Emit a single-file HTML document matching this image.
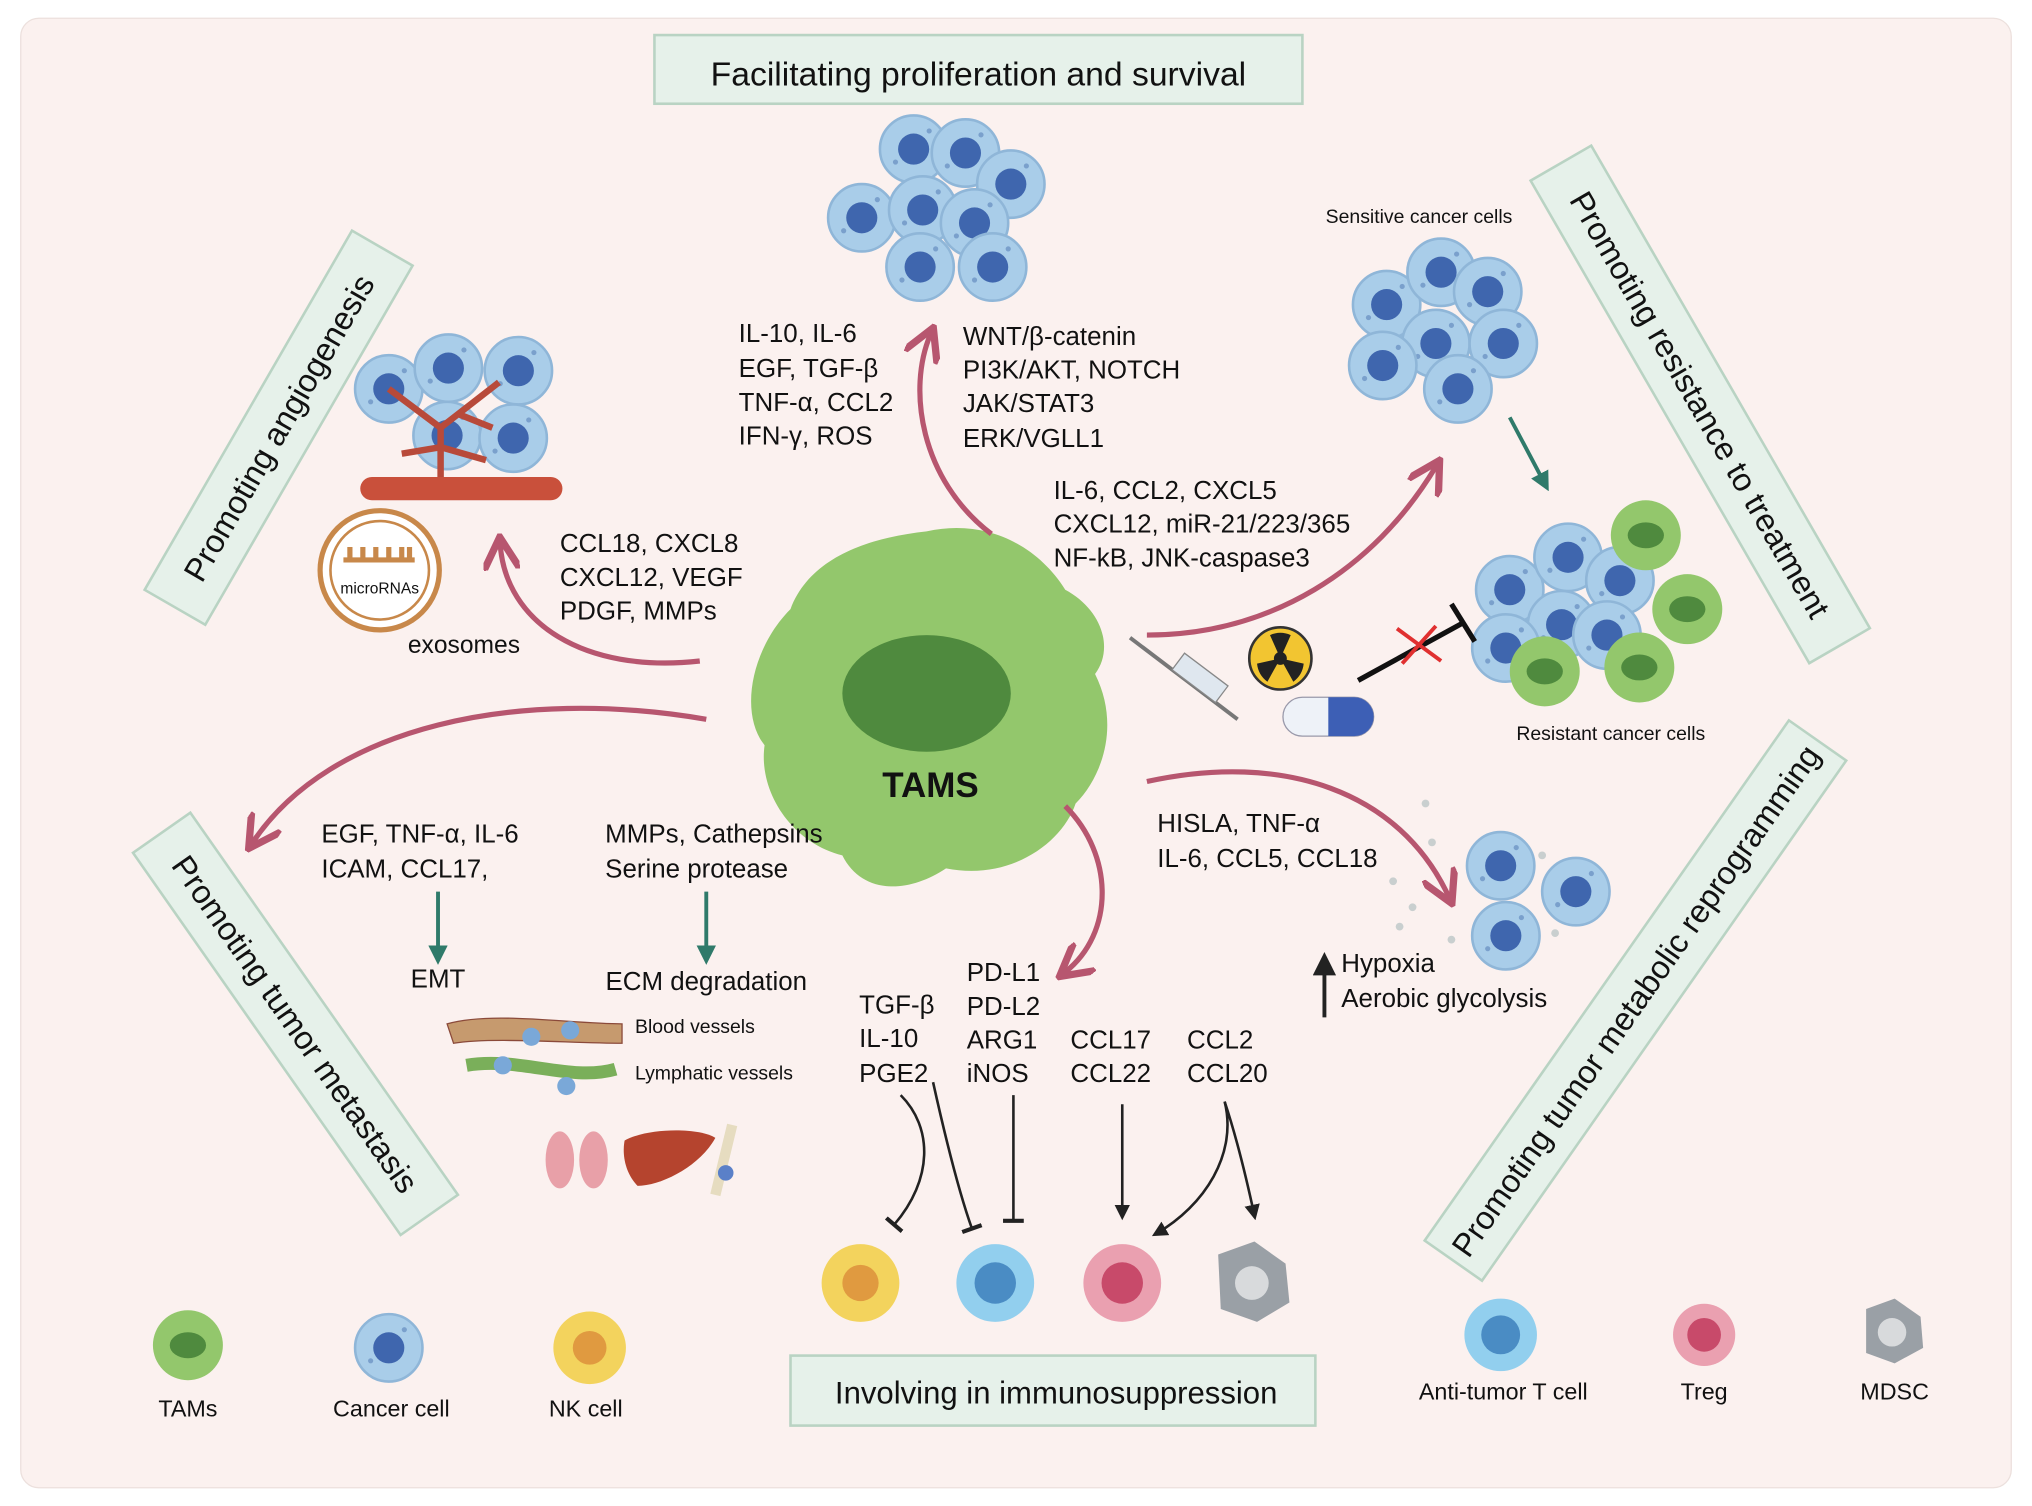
<!DOCTYPE html>
<html><head><meta charset="utf-8"><style>
html,body{margin:0;padding:0;background:#fff;}
svg{display:block;}
text{font-family:"Liberation Sans",Arial,sans-serif;fill:#111;}
</style></head><body>
<svg width="2032" height="1506" viewBox="0 0 1568 1162" xmlns="http://www.w3.org/2000/svg">
<defs>
<marker id="ap" viewBox="0 0 10 10" refX="7" refY="5" markerWidth="7" markerHeight="7" orient="auto-start-reverse"><path d="M0,0 L9,5 L0,10" fill="none" stroke="#b7566f" stroke-width="2"/></marker>
<marker id="ag" viewBox="0 0 10 10" refX="7" refY="5" markerWidth="5" markerHeight="5" orient="auto"><path d="M0,0 L10,5 L0,10 z" fill="#2f7a6a"/></marker>
<marker id="ak" viewBox="0 0 10 10" refX="7" refY="5" markerWidth="6" markerHeight="6" orient="auto"><path d="M0,0 L10,5 L0,10 z" fill="#222"/></marker>
<marker id="tb" viewBox="0 0 10 10" refX="5" refY="5" markerWidth="8" markerHeight="8" orient="auto"><path d="M5,0 L5,10" stroke="#222" stroke-width="2"/></marker>
<g id="cc"><circle r="26" fill="#a9cde9" stroke="#8fb6d8" stroke-width="2"/><circle r="12" fill="#3f66ae"/><circle cx="12" cy="-14" r="2" fill="#7aa0cc"/><circle cx="-14" cy="10" r="2" fill="#7aa0cc"/></g>
<g id="gc"><circle r="27" fill="#93c76c"/><ellipse rx="14" ry="10" fill="#4f8a3e"/></g>
</defs>
<rect x="16" y="14" width="1536" height="1134" rx="14" fill="#fbf1ef" stroke="#ece0dd"/>

<!-- title boxes -->
<rect x="505" y="27" width="500" height="53" fill="#e6f1ea" stroke="#b9d3c3" stroke-width="2"/>
<text x="755" y="66" font-size="26" text-anchor="middle">Facilitating proliferation and survival</text>
<rect x="610" y="1046" width="405" height="54" fill="#e6f1ea" stroke="#b9d3c3" stroke-width="2"/>
<text x="815" y="1083" font-size="24" text-anchor="middle">Involving in immunosuppression</text>
<g transform="translate(215,330) rotate(-60)"><rect x="-160" y="-27" width="320" height="54" fill="#e6f1ea" stroke="#b9d3c3" stroke-width="2"/><text y="9" font-size="25" text-anchor="middle">Promoting angiogenesis</text></g>
<g transform="translate(1312,312) rotate(60)"><rect x="-215" y="-27" width="430" height="54" fill="#e6f1ea" stroke="#b9d3c3" stroke-width="2"/><text y="9" font-size="25" text-anchor="middle">Promoting resistance to treatment</text></g>
<g transform="translate(228,790) rotate(55)"><rect x="-180" y="-27" width="360" height="54" fill="#e6f1ea" stroke="#b9d3c3" stroke-width="2"/><text y="9" font-size="25" text-anchor="middle">Promoting tumor metastasis</text></g>
<g transform="translate(1262,772) rotate(-55)"><rect x="-245" y="-27" width="490" height="54" fill="#e6f1ea" stroke="#b9d3c3" stroke-width="2"/><text y="9" font-size="25" text-anchor="middle">Promoting tumor metabolic reprogramming</text></g>

<!-- top cells -->
<use href="#cc" x="665" y="168"/><use href="#cc" x="705" y="115"/><use href="#cc" x="745" y="118"/><use href="#cc" x="780" y="142"/><use href="#cc" x="712" y="162"/><use href="#cc" x="752" y="172"/><use href="#cc" x="710" y="206"/><use href="#cc" x="766" y="206"/>
<!-- sensitive cells -->
<use href="#cc" x="1070" y="235"/><use href="#cc" x="1112" y="210"/><use href="#cc" x="1148" y="225"/><use href="#cc" x="1108" y="265"/><use href="#cc" x="1160" y="265"/><use href="#cc" x="1067" y="282"/><use href="#cc" x="1125" y="300"/>
<text x="1095" y="172" font-size="15" text-anchor="middle">Sensitive cancer cells</text>
<!-- resistant -->
<use href="#cc" x="1165" y="455"/><use href="#cc" x="1210" y="430"/><use href="#cc" x="1250" y="448"/><use href="#cc" x="1205" y="482"/><use href="#cc" x="1162" y="500"/><use href="#cc" x="1240" y="490"/>
<use href="#gc" x="1270" y="413"/><use href="#gc" x="1302" y="470"/><use href="#gc" x="1192" y="518"/><use href="#gc" x="1265" y="515"/>
<text x="1243" y="571" font-size="15" text-anchor="middle">Resistant cancer cells</text>
<path d="M1165,322 L1193,375" stroke="#2f7a6a" stroke-width="3" marker-end="url(#ag)"/>
<path d="M1048,525 L1130,480" stroke="#111" stroke-width="4"/><path d="M1120,466 L1138,495" stroke="#111" stroke-width="4"/>
<path d="M1078,485 L1112,510 M1108,483 L1082,512" stroke="#e03030" stroke-width="3"/>
<!-- syringe, radiation, pill -->
<path d="M872,492 L955,555" stroke="#777" stroke-width="3"/><rect x="905" y="515" width="42" height="16" fill="#dfe7ef" stroke="#888" transform="rotate(37 926 523)"/>
<circle cx="988" cy="508" r="24" fill="#f2c531" stroke="#333" stroke-width="2"/><circle cx="988" cy="508" r="5" fill="#222"/>
<path d="M988,508 L980,490 A20,20 0 0 1 996,490 Z M988,508 L1006,512 A20,20 0 0 1 998,526 Z M988,508 L978,526 A20,20 0 0 1 970,512 Z" fill="#222"/>
<rect x="990" y="538" width="70" height="30" rx="15" fill="#eef2f8" stroke="#99a"/><path d="M1025,538 h20 a15,15 0 0 1 0,30 h-20 z" fill="#3d5fb5"/>

<!-- angiogenesis -->
<use href="#cc" x="300" y="300"/><use href="#cc" x="346" y="284"/><use href="#cc" x="400" y="286"/><use href="#cc" x="345" y="336"/><use href="#cc" x="396" y="338"/>
<path d="M340,372 L340,330 L300,300 M340,330 L385,295 M340,345 L310,350 M340,345 L375,355 M355,320 L380,330" stroke="#b84a3a" stroke-width="5" fill="none"/>
<rect x="278" y="368" width="156" height="18" rx="9" fill="#c9503b"/>
<circle cx="293" cy="440" r="46" fill="#fff" stroke="#c8884a" stroke-width="4"/><circle cx="293" cy="440" r="38" fill="none" stroke="#c8884a" stroke-width="2"/>
<path d="M265,432 h55 M270,432 v-10 M280,432 v-10 M290,432 v-10 M300,432 v-10 M310,432 v-10 M316,432 v-10" stroke="#c8884a" stroke-width="4"/>
<text x="293" y="458" font-size="12" text-anchor="middle">microRNAs</text>
<text x="358" y="504" font-size="19" text-anchor="middle">exosomes</text>

<!-- TAMS blob -->
<path d="M715,410 C760,400 800,420 822,455 C850,470 860,500 845,520 C865,560 850,600 830,620 C820,650 780,680 730,670 C700,690 665,690 650,660 C610,650 585,610 590,575 C570,550 580,500 610,470 C625,430 670,415 715,410 Z" fill="#93c76c"/>
<ellipse cx="715" cy="535" rx="65" ry="45" fill="#4f8a3e"/>
<text x="718" y="615" font-size="27" font-weight="bold" text-anchor="middle">TAMS</text>

<!-- pink arrows -->
<g stroke="#b7566f" stroke-width="4" fill="none" marker-end="url(#ap)">
<path d="M765,412 C710,370 700,300 718,258"/>
<path d="M885,490 C980,490 1060,440 1108,360"/>
<path d="M540,510 C450,520 390,480 386,420"/>
<path d="M545,555 C400,530 255,560 195,650"/>
<path d="M885,603 C990,580 1080,610 1118,692"/>
<path d="M822,622 C860,660 860,720 822,750"/>
</g>

<!-- labels -->
<g font-size="20">
<text x="570" y="264">IL-10, IL-6</text><text x="570" y="291">EGF, TGF-β</text><text x="570" y="317">TNF-α, CCL2</text><text x="570" y="343">IFN-γ, ROS</text>
<text x="743" y="266">WNT/β-catenin</text><text x="743" y="292">PI3K/AKT, NOTCH</text><text x="743" y="318">JAK/STAT3</text><text x="743" y="345">ERK/VGLL1</text>
<text x="813" y="385">IL-6, CCL2, CXCL5</text><text x="813" y="411">CXCL12, miR-21/223/365</text><text x="813" y="437">NF-kB, JNK-caspase3</text>
<text x="432" y="426">CCL18, CXCL8</text><text x="432" y="452">CXCL12, VEGF</text><text x="432" y="478">PDGF, MMPs</text>
<text x="248" y="650">EGF, TNF-α, IL-6</text><text x="248" y="677">ICAM, CCL17,</text>
<text x="467" y="650">MMPs, Cathepsins</text><text x="467" y="677">Serine protease</text>
<text x="338" y="762" text-anchor="middle">EMT</text><text x="545" y="764" text-anchor="middle">ECM degradation</text>
<text x="893" y="642">HISLA, TNF-α</text><text x="893" y="669">IL-6, CCL5, CCL18</text>
<text x="1035" y="750">Hypoxia</text><text x="1035" y="777">Aerobic glycolysis</text>
<text x="663" y="782">TGF-β</text><text x="663" y="808">IL-10</text><text x="663" y="835">PGE2</text>
<text x="746" y="757">PD-L1</text><text x="746" y="783">PD-L2</text><text x="746" y="809">ARG1</text><text x="746" y="835">iNOS</text>
<text x="826" y="809">CCL17</text><text x="826" y="835">CCL22</text>
<text x="916" y="809">CCL2</text><text x="916" y="835">CCL20</text>
</g>
<path d="M1022,785 L1022,740" stroke="#222" stroke-width="3" marker-end="url(#ak)"/>
<path d="M338,688 L338,740" stroke="#2f7a6a" stroke-width="3" marker-end="url(#ag)"/>
<path d="M545,688 L545,740" stroke="#2f7a6a" stroke-width="3" marker-end="url(#ag)"/>

<!-- metastasis -->
<path d="M345,790 C380,780 440,790 480,790 L480,805 C440,805 380,800 350,805 Z" fill="#c69a6e" stroke="#8b4a3a"/>
<circle cx="410" cy="800" r="7" fill="#7aa8d8"/><circle cx="440" cy="795" r="7" fill="#7aa8d8"/>
<path d="M360,822 C400,815 440,835 475,825" stroke="#7aaf5a" stroke-width="10" fill="none"/>
<circle cx="388" cy="822" r="7" fill="#7aa8d8"/><circle cx="437" cy="838" r="7" fill="#7aa8d8"/>
<text x="490" y="797" font-size="15">Blood vessels</text><text x="490" y="833" font-size="15">Lymphatic vessels</text>
<ellipse cx="432" cy="895" rx="11" ry="22" fill="#e8a0a8"/><ellipse cx="458" cy="895" rx="11" ry="22" fill="#e8a0a8"/>
<path d="M482,880 C500,870 540,870 552,878 C540,900 510,915 492,915 C482,905 480,890 482,880 Z" fill="#b5442e"/>
<path d="M565,868 L552,922" stroke="#e6dcc0" stroke-width="8"/><circle cx="560" cy="905" r="6" fill="#5a80c8"/>

<!-- metabolic cells -->
<g fill="#c9cfcf"><circle cx="1075" cy="680" r="3"/><circle cx="1090" cy="700" r="3"/><circle cx="1105" cy="650" r="3"/><circle cx="1080" cy="715" r="3"/><circle cx="1120" cy="725" r="3"/><circle cx="1100" cy="620" r="3"/><circle cx="1190" cy="660" r="3"/><circle cx="1200" cy="720" r="3"/></g>
<use href="#cc" x="1158" y="668"/><use href="#cc" x="1216" y="688"/><use href="#cc" x="1162" y="722"/>

<!-- immune inhibition lines -->
<g stroke="#222" stroke-width="2" fill="none">
<path d="M695,845 C720,870 720,910 690,945" marker-end="url(#tb)"/>
<path d="M720,835 C730,880 740,920 750,948" marker-end="url(#tb)"/>
<path d="M782,845 L782,942" marker-end="url(#tb)"/>
<path d="M866,852 L866,938" marker-end="url(#ak)"/>
<path d="M945,850 C955,890 930,930 892,952" marker-end="url(#ak)"/>
<path d="M945,850 C955,880 962,910 968,938" marker-end="url(#ak)"/>
</g>
<circle cx="664" cy="990" r="30" fill="#f3d35d"/><circle cx="664" cy="990" r="14" fill="#e09a40"/>
<circle cx="768" cy="990" r="30" fill="#92cfee"/><circle cx="768" cy="990" r="16" fill="#4a8cc4"/>
<circle cx="866" cy="990" r="30" fill="#eaa0b0"/><circle cx="866" cy="990" r="16" fill="#c84a6a"/>
<path d="M940,968 L968,958 L992,975 L995,1005 L970,1020 L942,1010 Z" fill="#9aa0a6"/><circle cx="966" cy="990" r="13" fill="#d8dadc"/>

<!-- legend -->
<use href="#gc" x="145" y="1038"/><use href="#cc" x="300" y="1040"/>
<circle cx="455" cy="1040" r="28" fill="#f3d35d"/><circle cx="455" cy="1040" r="13" fill="#e09a40"/>
<circle cx="1158" cy="1030" r="28" fill="#92cfee"/><circle cx="1158" cy="1030" r="15" fill="#4a8cc4"/>
<circle cx="1315" cy="1030" r="24" fill="#eaa0b0"/><circle cx="1315" cy="1030" r="13" fill="#c84a6a"/>
<path d="M1440,1010 L1462,1002 L1482,1016 L1484,1040 L1462,1052 L1440,1044 Z" fill="#9aa0a6"/><circle cx="1460" cy="1028" r="11" fill="#d8dadc"/>
<g font-size="18" text-anchor="middle">
<text x="145" y="1093">TAMs</text><text x="302" y="1093">Cancer cell</text><text x="452" y="1093">NK cell</text>
<text x="1160" y="1080">Anti-tumor T cell</text><text x="1315" y="1080">Treg</text><text x="1462" y="1080">MDSC</text>
</g>
</svg>
</body></html>
